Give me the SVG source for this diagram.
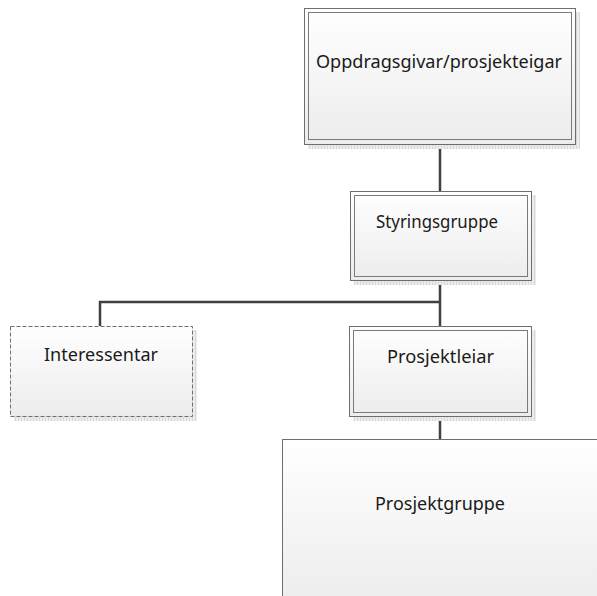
<svg xmlns="http://www.w3.org/2000/svg" width="597" height="596" viewBox="0 0 597 596">
<defs>
<linearGradient id="fill" x1="0" y1="0" x2="0" y2="1">
<stop offset="0" stop-color="#ffffff"/>
<stop offset="1" stop-color="#ececec"/>
</linearGradient>
<pattern id="hatch" width="3" height="3" patternUnits="userSpaceOnUse">
<rect width="3" height="3" fill="#ececec"/>
<rect width="1" height="3" fill="#d8d8d8"/>
</pattern>
</defs>
<style>
.shadow{fill:url(#hatch);stroke:none}
.outer{fill:url(#fill);stroke:#6e6e6e;stroke-width:1}
.inner{fill:none;stroke:#7a7a7a;stroke-width:1}
.dashed{fill:url(#fill);stroke:#6e6e6e;stroke-width:1;stroke-dasharray:4 2}
.single{fill:url(#fill);stroke:#6e6e6e;stroke-width:1}
.conn{fill:none;stroke:#404040;stroke-width:2.5}
text{font-family:"Noto Sans","Open Sans",sans-serif;font-size:18px;fill:#1a1a1a;text-anchor:middle}
</style>
<rect width="597" height="596" fill="#ffffff"/>
<g id="connectors">
<line class="conn" x1="440" y1="144" x2="440" y2="191"/>
<line class="conn" x1="440" y1="281" x2="440" y2="326"/>
<polyline class="conn" points="100,326 100,302 440,302"/>
<line class="conn" x1="440" y1="417" x2="440" y2="439"/>
</g>
<g id="oppdragsgivar">
<rect class="shadow" x="308" y="12" width="272" height="137"/>
<rect class="outer" x="304.5" y="8.5" width="271" height="136"/>
<rect class="inner" x="308.5" y="12.5" width="263" height="127"/>
<text x="439" y="68" textLength="246" lengthAdjust="spacingAndGlyphs">Oppdragsgivar/prosjekteigar</text>
</g>
<g id="styringsgruppe">
<rect class="shadow" x="354" y="195" width="182" height="90"/>
<rect class="outer" x="350.5" y="191.5" width="181" height="89"/>
<rect class="inner" x="354.5" y="195.5" width="173" height="81"/>
<text x="437" y="228" textLength="122" lengthAdjust="spacingAndGlyphs">Styringsgruppe</text>
</g>
<g id="interessentar">
<rect class="shadow" x="14" y="330" width="183" height="91"/>
<rect class="dashed" x="10.5" y="326.5" width="182" height="90"/>
<text x="101" y="361" textLength="114" lengthAdjust="spacingAndGlyphs">Interessentar</text>
</g>
<g id="prosjektleiar">
<rect class="shadow" x="353" y="330" width="183" height="91"/>
<rect class="outer" x="349.5" y="326.5" width="182" height="90"/>
<rect class="inner" x="353.5" y="330.5" width="174" height="82"/>
<text x="440.5" y="363" textLength="107" lengthAdjust="spacingAndGlyphs">Prosjektleiar</text>
</g>
<g id="prosjektgruppe">
<rect class="single" x="282.5" y="439.5" width="330" height="170"/>
<text x="440" y="510" textLength="130" lengthAdjust="spacingAndGlyphs">Prosjektgruppe</text>
</g>
</svg>
